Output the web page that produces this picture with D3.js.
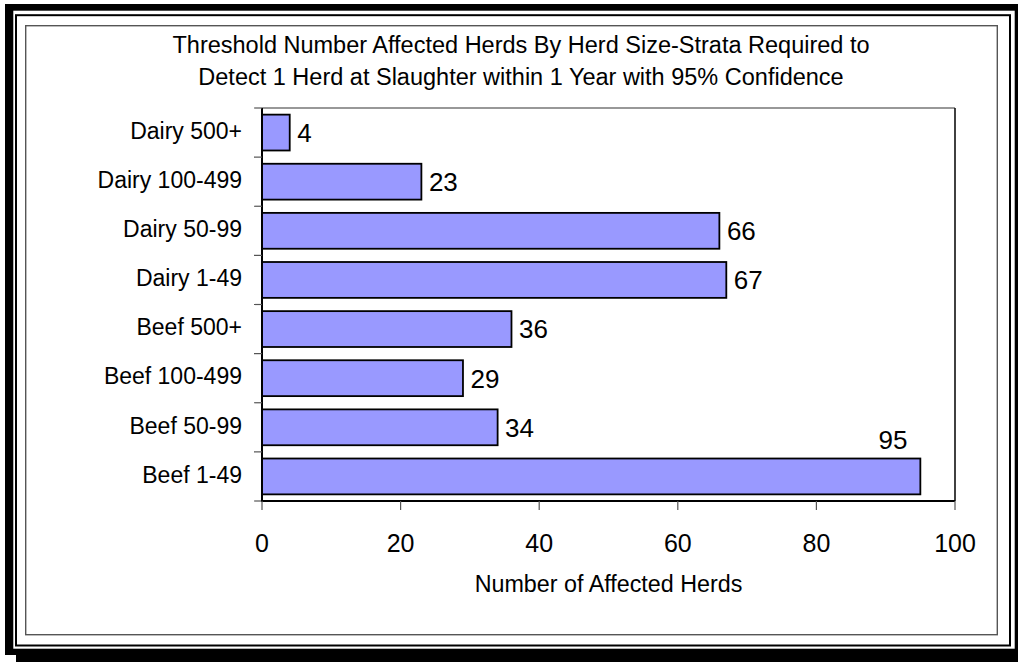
<!DOCTYPE html>
<html>
<head>
<meta charset="utf-8">
<script src="https://cdn.jsdelivr.net/npm/d3@7"></script>
<style>
  body { margin: 0; background: #fff; }
  text { font-family: "Liberation Sans", Arial, sans-serif; fill: #000; }
</style>
</head>
<body>
<div id="chart"></div>
<script>
var categories = ["Dairy 500+", "Dairy 100-499", "Dairy 50-99", "Dairy 1-49",
                  "Beef 500+", "Beef 100-499", "Beef 50-99", "Beef 1-49"];
var herds = [4, 23, 66, 67, 36, 29, 34, 95];
var xTicks = [0, 20, 40, 60, 80, 100];
var titleLines = ["Threshold Number Affected Herds By Herd Size-Strata Required to",
                  "Detect 1 Herd at Slaughter within 1 Year with 95% Confidence"];
var xTitle = "Number of Affected Herds";

var width = 1018, height = 662;
var plot = {left: 262, right: 955, top: 108, bottom: 501};

var svg = d3.select("#chart").append("svg")
    .attr("width", width)
    .attr("height", height);

// frame: thick black shadow border, thin black line, grey chart-area border
svg.append("rect").attr("width", width).attr("height", height).attr("fill", "white");
svg.append("rect").attr("x", 5).attr("y", 4).attr("width", 1013).attr("height", 651).attr("fill", "black");
svg.append("rect").attr("x", 16).attr("y", 648.7).attr("width", 1002).attr("height", 13.3).attr("fill", "black");
svg.append("rect").attr("x", 13.3).attr("y", 10.7).attr("width", 1001.4).attr("height", 638).attr("fill", "white");
svg.append("rect").attr("x", 16).attr("y", 15.2).attr("width", 994).attr("height", 630.3)
    .attr("fill", "none").attr("stroke", "black").attr("stroke-width", 2);
svg.append("rect").attr("x", 25.7).attr("y", 25.7).attr("width", 971.6).attr("height", 609)
    .attr("fill", "none").attr("stroke", "#555").attr("stroke-width", 1.4);

var x = d3.scaleLinear().domain([0, 100]).range([plot.left, plot.right]);
var y = d3.scaleBand().domain(categories).range([plot.top, plot.bottom]).paddingInner(0.27).paddingOuter(0.135);

// title
svg.append("text")
    .attr("x", 521).attr("y", 52.7)
    .attr("text-anchor", "middle")
    .style("font-size", "23.5px")
  .selectAll("tspan")
    .data(titleLines)
    .enter().append("tspan")
    .attr("x", 521)
    .attr("dy", function(d, i) { return i ? 32.3 : 0; })
    .text(function(d) { return d; });

// plot border (top + right)
svg.append("line").attr("x1", plot.left).attr("x2", plot.right).attr("y1", plot.top).attr("y2", plot.top)
    .attr("stroke", "#333").attr("stroke-width", 1.2);
svg.append("line").attr("x1", plot.right).attr("x2", plot.right).attr("y1", plot.top).attr("y2", plot.bottom)
    .attr("stroke", "#111").attr("stroke-width", 1.6);

// bars
svg.append("g").selectAll("rect")
    .data(herds)
    .enter().append("rect")
    .attr("x", x(0))
    .attr("y", function(d, i) { return y(categories[i]); })
    .attr("width", function(d) { return x(d) - x(0); })
    .attr("height", y.bandwidth())
    .attr("fill", "#9999ff")
    .attr("stroke", "black")
    .attr("stroke-width", 1.8);

// value labels
svg.append("g").selectAll("text")
    .data(herds)
    .enter().append("text")
    .style("font-size", "26px")
    .each(function(d, i) {
        var t = d3.select(this).text(d);
        var yc = y(categories[i]) + y.bandwidth() / 2;
        if (x(d) + 40 < plot.right) {
            t.attr("x", x(d) + 7.5).attr("y", yc).attr("dy", "0.36em");
        } else {
            t.attr("x", x(d) - 13).attr("y", y(categories[i]) - 10).attr("text-anchor", "end");
        }
    });

// y axis
var yAxis = svg.append("g");
yAxis.append("line").attr("x1", plot.left).attr("x2", plot.left).attr("y1", plot.top).attr("y2", plot.bottom + 1)
    .attr("stroke", "black").attr("stroke-width", 2);
var yBounds = d3.range(categories.length + 1).map(function(i) {
    return plot.top + i * (plot.bottom - plot.top) / categories.length;
});
yAxis.selectAll("line.tick")
    .data(yBounds)
    .enter().append("line")
    .attr("class", "tick")
    .attr("x1", plot.left - 8).attr("x2", plot.left)
    .attr("y1", function(d) { return d; }).attr("y2", function(d) { return d; })
    .attr("stroke", "#555").attr("stroke-width", 1.2);
yAxis.selectAll("text")
    .data(categories)
    .enter().append("text")
    .attr("x", 242)
    .attr("y", function(d) { return y(d) + y.bandwidth() / 2; })
    .attr("dy", "0.27em")
    .attr("text-anchor", "end")
    .style("font-size", "23px")
    .text(function(d) { return d; });

// x axis
var xAxis = svg.append("g");
xAxis.append("line").attr("x1", plot.left - 1).attr("x2", plot.right).attr("y1", plot.bottom).attr("y2", plot.bottom)
    .attr("stroke", "black").attr("stroke-width", 2);
xAxis.selectAll("line.tick")
    .data(xTicks)
    .enter().append("line")
    .attr("class", "tick")
    .attr("x1", function(d) { return x(d); }).attr("x2", function(d) { return x(d); })
    .attr("y1", plot.bottom).attr("y2", plot.bottom + 9)
    .attr("stroke", "#555").attr("stroke-width", 1.2);
xAxis.selectAll("text")
    .data(xTicks)
    .enter().append("text")
    .attr("x", function(d) { return x(d); })
    .attr("y", 552)
    .attr("text-anchor", "middle")
    .style("font-size", "25px")
    .text(function(d) { return d; });

svg.append("text")
    .attr("x", (plot.left + plot.right) / 2)
    .attr("y", 592)
    .attr("text-anchor", "middle")
    .style("font-size", "23.3px")
    .text(xTitle);
</script>
</body>
</html>
